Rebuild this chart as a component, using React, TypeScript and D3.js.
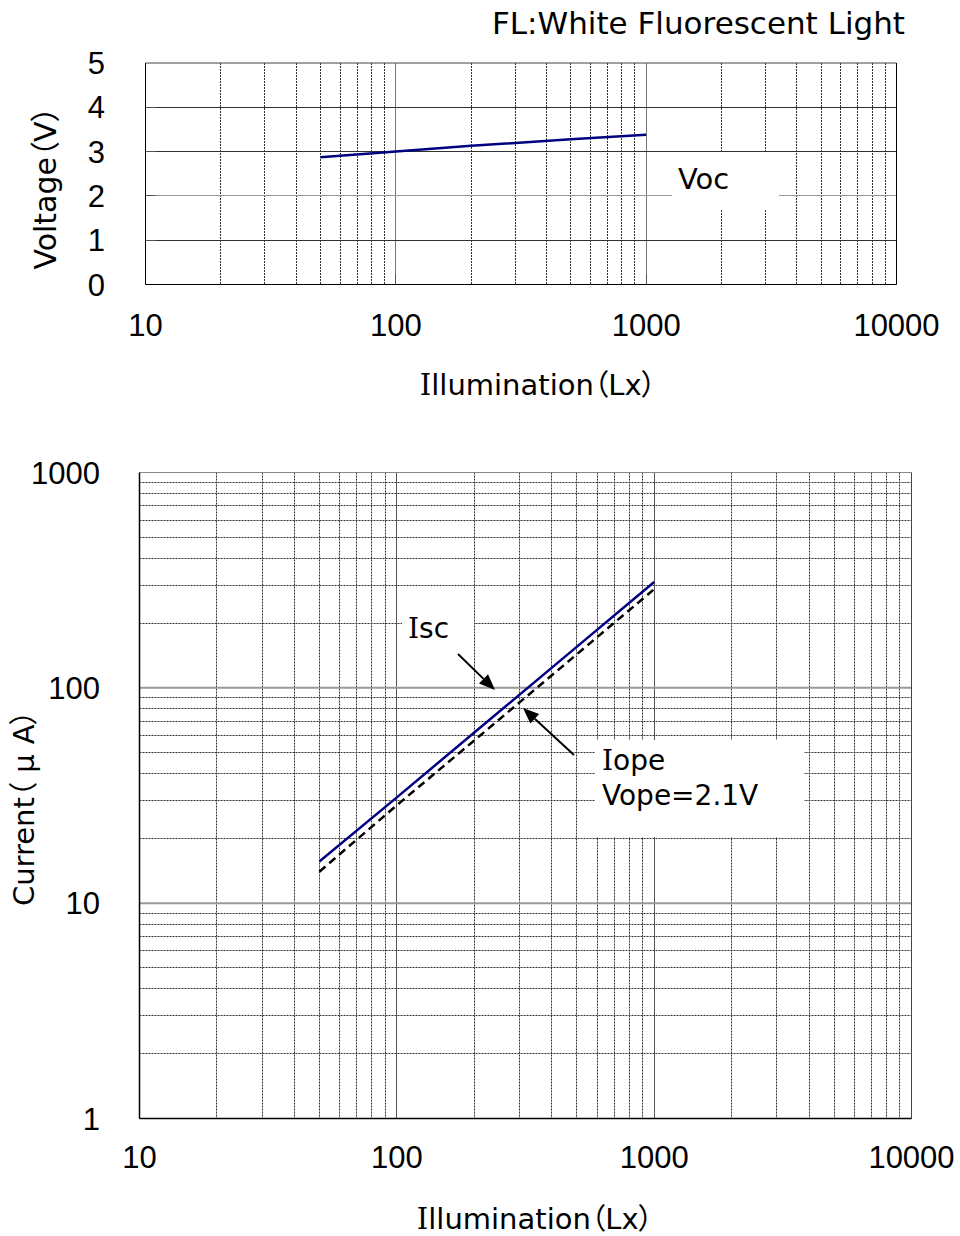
import React from "react";
import * as d3 from "d3";

const illum = [50, 100, 200, 500, 1000];
const voc = [2.87, 3.0, 3.13, 3.28, 3.38];
const isc = [15.6, 31, 62, 155, 310];
const iope = [14, 28.5, 57, 143, 287];

const xTicks = [10, 100, 1000, 10000];
const xTickLabels = ["10", "100", "1000", "10000"];
const vTicks = [0, 1, 2, 3, 4, 5];
const iTicks = [1, 10, 100, 1000];
const iTickLabels = ["1", "10", "100", "1000"];
const minorSteps = [2, 3, 4, 5, 6, 7, 8, 9];

const NUM_FONT = "'Liberation Sans', Arial, sans-serif";
const TXT_FONT = "'DejaVu Sans', 'Noto Sans CJK JP', sans-serif";
const SERIF_I = "'DejaVu Serif', 'Liberation Serif', serif";
const NAVY = "#000080";
const DASH = "2 1";
const palt: React.CSSProperties = { fontFeatureSettings: "'palt'" };

const minorsOf = (decades: number[]) =>
  decades.flatMap(d => minorSteps.map(m => d * m));

// the source font draws capital I with serifs
const SerifI: React.FC<{ rest: string }> = ({ rest }) => (
  <>
    <tspan fontFamily={SERIF_I}>I</tspan>
    <tspan>{rest}</tspan>
  </>
);

const Arrow: React.FC<{ x1: number; y1: number; x2: number; y2: number }> = ({ x1, y1, x2, y2 }) => {
  const a = Math.atan2(y2 - y1, x2 - x1);
  const len = 16, half = 6.5;
  const bx = x2 - len * Math.cos(a), by = y2 - len * Math.sin(a);
  const px = -Math.sin(a) * half, py = Math.cos(a) * half;
  return (
    <g>
      <line x1={x1} y1={y1} x2={bx} y2={by} stroke="#000" strokeWidth={2} />
      <polygon points={`${x2},${y2} ${bx + px},${by + py} ${bx - px},${by - py}`} fill="#000" />
    </g>
  );
};

const App: React.FC = () => {
  // top: voltage chart
  const xT = d3.scaleLog().domain([10, 10000]).range([145.5, 896.5]);
  const yT = d3.scaleLinear().domain([0, 5]).range([284.5, 63]);
  // bottom: current chart
  const xB = d3.scaleLog().domain([10, 10000]).range([139.5, 911.5]);
  const yB = d3.scaleLog().domain([1, 1000]).range([1118.5, 472.5]);

  const vocLine = d3.line<number>().x((_, i) => xT(illum[i])).y(d => yT(d));
  const iscLine = d3.line<number>().x((_, i) => xB(illum[i])).y(d => yB(d));
  const iopeLine = d3.line<number>().x((_, i) => xB(illum[i])).y(d => yB(d));

  const xMinor = minorsOf([10, 100, 1000]);
  const yMinor = minorsOf([1, 10, 100]);

  const [tx0, tx1] = xT.range();
  const [ty0, ty1] = yT.range();
  const [bx0, bx1] = xB.range();
  const [by0, by1] = yB.range();
  const snap = (v: number) => Math.round(v - 0.5) + 0.5;

  return (
    <svg width={960} height={1236} style={{ display: "block", position: "absolute", left: 0, top: 0 }}>
      <rect x={0} y={0} width={960} height={1236} fill="#fff" />

      {/* ---------- top chart ---------- */}
      <text x={905} y={34} textAnchor="end" fontFamily={TXT_FONT} fontSize={31}>
        FL:White Fluorescent Light
      </text>

      {xMinor.map(v => (
        <line key={"tm" + v} x1={snap(xT(v))} x2={snap(xT(v))} y1={ty1} y2={ty0} stroke="#333" strokeDasharray={DASH} />
      ))}
      {[100, 1000].map(v => (
        <line key={"tM" + v} x1={snap(xT(v))} x2={snap(xT(v))} y1={ty1} y2={ty0} stroke="#777" />
      ))}
      {vTicks.slice(1, 5).map(v => (
        <line key={"th" + v} x1={tx0} x2={tx1} y1={snap(yT(v))} y2={snap(yT(v))} stroke={v === 2 ? "#999" : "#333"} />
      ))}
      {vTicks.slice(1, 5).map(v => (
        <line key={"tt" + v} x1={tx0} x2={tx0 + 10} y1={snap(yT(v))} y2={snap(yT(v))} stroke="#555" />
      ))}
      {[100, 1000].map(v => (
        <line key={"tb" + v} x1={snap(xT(v))} x2={snap(xT(v))} y1={ty0 - 10} y2={ty0} stroke="#555" />
      ))}
      <line x1={tx0} x2={tx1} y1={ty1} y2={ty1} stroke="#444" />
      <line x1={tx1} x2={tx1} y1={ty1} y2={ty0} stroke="#000" />
      <line x1={tx0} x2={tx1} y1={ty0} y2={ty0} stroke="#000" />
      <line x1={tx0} x2={tx0} y1={ty1} y2={ty0} stroke="#000" />

      <path d={vocLine(voc) ?? ""} fill="none" stroke={NAVY} strokeWidth={2.5} />

      <rect x={672} y={152} width={107} height={57} fill="#fff" />
      <text x={678} y={189} fontFamily={TXT_FONT} fontSize={29}>Voc</text>

      {vTicks.map(v => (
        <text key={"vl" + v} x={105} y={yT(v)} dy="0.36em" textAnchor="end" fontFamily={NUM_FONT} fontSize={31}>
          {v}
        </text>
      ))}
      {xTicks.map((v, i) => (
        <text key={"xl" + v} x={xT(v)} y={336} textAnchor="middle" fontFamily={NUM_FONT} fontSize={31}>
          {xTickLabels[i]}
        </text>
      ))}
      <text x={538} y={395} textAnchor="middle" fontFamily={TXT_FONT} fontSize={29} style={palt}>
        <SerifI rest="llumination（Lx）" />
      </text>
      <text transform="translate(56,188) rotate(-90)" textAnchor="middle" fontFamily={TXT_FONT} fontSize={30} style={palt}>
        Voltage（V）
      </text>

      {/* ---------- bottom chart ---------- */}
      {xMinor.map(v => (
        <line key={"bm" + v} x1={snap(xB(v))} x2={snap(xB(v))} y1={by1} y2={by0} stroke="#333" strokeDasharray={DASH} />
      ))}
      {yMinor.map(v => (
        <line key={"bh" + v} x1={bx0} x2={bx1} y1={snap(yB(v))} y2={snap(yB(v))} stroke="#333" strokeDasharray={DASH} />
      ))}
      {[100, 1000].map(v => (
        <line key={"bM" + v} x1={snap(xB(v))} x2={snap(xB(v))} y1={by1} y2={by0} stroke="#555" />
      ))}
      {[10, 100].map(v => (
        <line key={"bH" + v} x1={bx0} x2={bx1} y1={yB(v)} y2={yB(v)} stroke="#999" strokeWidth={2} />
      ))}
      <line x1={bx0} x2={bx1} y1={by1} y2={by1} stroke="#888" />
      <line x1={bx1} x2={bx1} y1={by1} y2={by0} stroke="#444" />
      <line x1={bx0} x2={bx1} y1={by0} y2={by0} stroke="#000" strokeWidth={1.5} />
      <line x1={bx0} x2={bx0} y1={by1} y2={by0} stroke="#000" strokeWidth={1.5} />

      <path d={iscLine(isc) ?? ""} fill="none" stroke={NAVY} strokeWidth={2.5} />
      <path d={iopeLine(iope) ?? ""} fill="none" stroke="#000" strokeWidth={2.5} strokeDasharray="8 5" />

      <rect x={402} y={604} width={72} height={36} fill="#fff" />
      <text x={408} y={638} fontFamily={TXT_FONT} fontSize={28}>
        <SerifI rest="sc" />
      </text>
      <Arrow x1={458} y1={654} x2={495} y2={690} />

      <rect x={595} y={740} width={209} height={97} fill="#fff" />
      <text x={602} y={770} fontFamily={TXT_FONT} fontSize={28}>
        <SerifI rest="ope" />
      </text>
      <text x={602} y={805} fontFamily={TXT_FONT} fontSize={28}>Vope=2.1V</text>
      <Arrow x1={574} y1={755} x2={523} y2={708} />

      {iTicks.map((v, i) => (
        <text key={"il" + v} x={100} y={yB(v)} dy="0.36em" textAnchor="end" fontFamily={NUM_FONT} fontSize={31}>
          {iTickLabels[i]}
        </text>
      ))}
      {xTicks.map((v, i) => (
        <text key={"bxl" + v} x={Math.min(xB(v), 912)} y={1168} textAnchor="middle" fontFamily={NUM_FONT} fontSize={31}>
          {xTickLabels[i]}
        </text>
      ))}
      <text x={535} y={1229} textAnchor="middle" fontFamily={TXT_FONT} fontSize={29} style={palt}>
        <SerifI rest="llumination（Lx）" />
      </text>
      <text transform="translate(34,808) rotate(-90)" textAnchor="middle" fontFamily={TXT_FONT} fontSize={29} style={palt}>
        Current（<tspan dx={10}>μ</tspan><tspan dx={10}>A</tspan>）
      </text>
    </svg>
  );
};

export default App;
